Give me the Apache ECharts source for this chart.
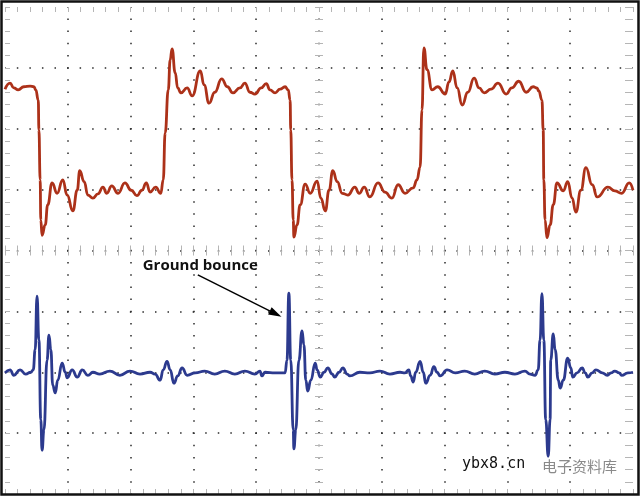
<!DOCTYPE html>
<html><head><meta charset="utf-8">
<script src="https://cdn.jsdelivr.net/npm/echarts@6/dist/echarts.min.js"></script>
<style>html,body{margin:0;padding:0;background:#fff}#c{width:640px;height:496px}</style>
</head><body><div id="c"></div>
<script>
// time in divisions (0..10), level in divisions (-4..4)
const redPoints = [
[0.00,2.65],[0.08,2.75],[0.14,2.67],[0.21,2.64],[0.30,2.69],[0.40,2.70],[0.46,2.69],[0.49,2.64],[0.53,2.47],[0.54,1.98],[0.56,1.16],[0.57,0.50],[0.59,0.25],[0.64,0.42],[0.68,0.75],[0.75,1.11],[0.83,0.94],[0.92,1.16],[0.99,0.91],[1.08,0.65],[1.15,0.99],[1.19,1.31],[1.26,1.13],[1.32,0.91],[1.40,0.86],[1.48,0.93],[1.56,1.04],[1.62,0.94],[1.70,1.06],[1.80,0.94],[1.91,1.11],[2.01,0.99],[2.10,0.90],[2.18,0.99],[2.25,1.11],[2.31,0.96],[2.40,1.04],[2.48,0.94],[2.52,1.16],[2.55,1.93],[2.60,2.64],[2.63,3.13],[2.66,3.31],[2.71,2.92],[2.75,2.67],[2.80,2.59],[2.90,2.67],[2.98,2.54],[3.11,2.95],[3.17,2.72],[3.25,2.42],[3.34,2.60],[3.45,2.82],[3.54,2.69],[3.63,2.59],[3.74,2.67],[3.82,2.75],[3.90,2.60],[3.98,2.57],[4.08,2.67],[4.16,2.74],[4.22,2.64],[4.30,2.59],[4.38,2.65],[4.46,2.69],[4.51,2.64],[4.54,2.47],[4.55,1.98],[4.57,1.16],[4.59,0.50],[4.60,0.22],[4.65,0.42],[4.70,0.75],[4.78,1.09],[4.86,0.94],[4.97,1.14],[5.03,0.86],[5.10,0.65],[5.16,0.99],[5.22,1.31],[5.29,1.13],[5.37,0.94],[5.46,0.91],[5.57,1.04],[5.64,0.94],[5.72,1.04],[5.81,0.88],[5.94,1.11],[6.05,0.96],[6.16,0.86],[6.26,1.08],[6.37,0.94],[6.50,1.03],[6.56,1.16],[6.61,1.37],[6.64,2.31],[6.67,3.33],[6.72,2.97],[6.80,2.64],[6.89,2.69],[7.01,2.57],[7.07,2.77],[7.13,2.95],[7.20,2.67],[7.28,2.39],[7.37,2.60],[7.47,2.83],[7.55,2.67],[7.63,2.59],[7.74,2.65],[7.85,2.75],[7.98,2.57],[8.07,2.67],[8.18,2.78],[8.30,2.60],[8.41,2.69],[8.47,2.67],[8.50,2.62],[8.55,2.47],[8.57,1.98],[8.58,1.16],[8.60,0.50],[8.63,0.21],[8.68,0.42],[8.73,0.75],[8.79,1.11],[8.89,0.98],[8.96,1.13],[9.03,0.86],[9.09,0.63],[9.17,0.99],[9.25,1.36],[9.35,1.08],[9.43,0.88],[9.60,1.04],[9.71,0.98],[9.82,0.94],[9.94,1.11],[10.00,0.99]
];
const bluePoints = [
[0.00,-2.01],[0.08,-1.96],[0.14,-2.05],[0.24,-1.96],[0.33,-2.03],[0.41,-2.00],[0.45,-1.96],[0.48,-1.63],[0.51,-0.75],[0.54,-1.47],[0.57,-2.78],[0.59,-3.28],[0.62,-2.95],[0.67,-1.80],[0.70,-1.39],[0.73,-1.63],[0.76,-2.21],[0.80,-2.34],[0.84,-2.13],[0.91,-1.85],[0.96,-2.00],[0.99,-2.09],[1.07,-1.96],[1.15,-2.08],[1.23,-1.96],[1.32,-2.05],[1.40,-2.00],[1.51,-2.03],[1.67,-1.98],[1.83,-2.05],[1.99,-1.98],[2.15,-2.03],[2.31,-2.00],[2.39,-2.03],[2.47,-2.13],[2.52,-1.96],[2.58,-1.82],[2.63,-1.96],[2.69,-2.18],[2.75,-2.06],[2.82,-1.93],[2.90,-2.05],[3.03,-2.01],[3.18,-1.98],[3.34,-2.03],[3.50,-1.98],[3.66,-2.03],[3.82,-1.98],[3.98,-2.03],[4.06,-1.98],[4.09,-2.06],[4.14,-2.00],[4.30,-2.01],[4.46,-2.01],[4.49,-1.80],[4.52,-0.70],[4.55,-1.80],[4.59,-2.95],[4.60,-3.26],[4.63,-2.95],[4.68,-1.80],[4.73,-1.32],[4.76,-1.55],[4.79,-2.13],[4.82,-2.31],[4.87,-2.13],[4.94,-1.85],[4.97,-1.96],[5.02,-2.08],[5.08,-2.00],[5.14,-1.93],[5.21,-2.03],[5.25,-2.08],[5.32,-2.00],[5.38,-1.93],[5.45,-2.03],[5.49,-2.06],[5.65,-2.00],[5.81,-2.01],[5.97,-1.98],[6.13,-2.03],[6.29,-2.00],[6.37,-2.01],[6.43,-1.96],[6.46,-2.06],[6.50,-2.16],[6.54,-2.00],[6.61,-1.82],[6.66,-2.00],[6.70,-2.18],[6.77,-2.05],[6.83,-1.91],[6.88,-2.00],[6.93,-2.06],[7.04,-1.96],[7.17,-2.01],[7.32,-1.98],[7.48,-2.03],[7.64,-1.98],[7.80,-2.03],[7.96,-2.00],[8.12,-2.03],[8.28,-1.98],[8.36,-2.03],[8.44,-2.05],[8.49,-1.96],[8.52,-1.47],[8.55,-0.71],[8.58,-1.47],[8.61,-2.78],[8.65,-3.38],[8.68,-2.78],[8.69,-1.80],[8.73,-1.37],[8.76,-1.63],[8.81,-2.13],[8.84,-2.26],[8.89,-2.13],[8.96,-1.77],[9.01,-1.93],[9.04,-2.08],[9.11,-2.01],[9.19,-1.93],[9.24,-2.01],[9.28,-2.08],[9.35,-2.01],[9.41,-1.96],[9.51,-2.01],[9.59,-2.05],[9.65,-2.01],[9.71,-1.98],[9.78,-2.01],[9.82,-2.05],[9.92,-2.01],[10.00,-2.00]
];
const annotationText = 'Ground bounce';
const annotationAt = [3.11, -0.25];
const arrowFrom = [3.07, -0.40];
const arrowTo = [4.31, -1.04];
const timeRange = [0, 10];
const levelRange = [-4, 4];
const centeredTimeRange = [-5, 5];
const watermarkSite = 'ybx8.cn';
const watermarkName = '电子资料库';

const chart = echarts.init(document.getElementById('c'), null, {renderer: 'canvas'});
const tickColor = '#b5b5b5';
function tickAxis(o) {
  return Object.assign({
    type: 'value', min: timeRange[0], max: timeRange[1], interval: 0.2,
    axisLine: {show: false, onZero: false}, axisLabel: {show: false},
    splitLine: {show: false},
    axisTick: {show: true, inside: true, length: 5, lineStyle: {color: tickColor, width: 1}}
  }, o);
}
function tickYAxis(o) {
  return tickAxis(Object.assign({min: levelRange[0], max: levelRange[1]}, o));
}
function centerLine(onZeroAxisIndex, inside, len, isY) {
  return {
    type: 'value',
    min: isY ? levelRange[0] : timeRange[0], max: isY ? levelRange[1] : timeRange[1], interval: 0.2,
    position: isY ? 'left' : 'bottom',
    axisLine: {show: true, onZero: true, onZeroAxisIndex: onZeroAxisIndex, lineStyle: {color: 'rgba(0,0,0,0)'}},
    axisLabel: {show: false}, splitLine: {show: false},
    axisTick: {show: true, inside: inside, length: len, lineStyle: {color: tickColor, width: 1}}
  };
}

const option = {
  animation: false,
  backgroundColor: '#fff',
  grid: {left: 5, right: 7, top: 7, bottom: 2, containLabel: false},
  xAxis: [
    {type: 'value', min: timeRange[0], max: timeRange[1], interval: 1, position: 'bottom',
     axisLine: {show: false, onZero: false}, axisTick: {show: false}, axisLabel: {show: false},
     splitLine: {show: true, showMinLine: false, showMaxLine: false,
       lineStyle: {color: '#2a2a2a', width: 1.5, type: [1.5, 10.68], dashOffset: 0.75}}},
    tickAxis({position: 'bottom'}),
    tickAxis({position: 'top'}),
    centerLine(0, true, 5, false),
    centerLine(0, false, 5, false),
    {type: 'value', min: centeredTimeRange[0], max: centeredTimeRange[1], show: false,
     axisLine: {onZero: false}}
  ],
  yAxis: [
    {type: 'value', min: levelRange[0], max: levelRange[1], interval: 1, position: 'left',
     axisLine: {show: false, onZero: false}, axisTick: {show: false}, axisLabel: {show: false},
     splitLine: {show: true, showMinLine: false, showMaxLine: false,
       lineStyle: {color: '#2a2a2a', width: 1.5, type: [1.5, 11.06], dashOffset: 0.75}}},
    tickYAxis({position: 'left'}),
    tickYAxis({position: 'right', axisTick: {show: true, inside: true, length: 8, lineStyle: {color: tickColor, width: 1}}}),
    centerLine(5, true, 4, true),
    centerLine(5, false, 4, true)
  ],
  series: [
    {type: 'line', name: 'output', xAxisIndex: 0, yAxisIndex: 0, data: redPoints,
     showSymbol: false, smooth: 0.5, smoothMonotone: 'x', z: 5,
     lineStyle: {color: '#AC3119', width: 2.8}},
    {type: 'line', name: 'ground', xAxisIndex: 0, yAxisIndex: 0, data: bluePoints,
     showSymbol: false, smooth: 0.5, smoothMonotone: 'x', z: 5,
     lineStyle: {color: '#2C3A8E', width: 2.8},
     markLine: {silent: true, symbol: ['none', 'triangle'], symbolSize: [8, 13],
       label: {show: false}, lineStyle: {color: '#000', width: 1.5, type: 'solid'},
       emphasis: {disabled: true},
       data: [[{coord: arrowFrom}, {coord: arrowTo}]]},
     markPoint: {silent: true, symbol: 'rect', symbolSize: 1, itemStyle: {color: 'rgba(0,0,0,0)'},
       label: {show: true, position: 'inside', formatter: annotationText, color: '#111',
         fontSize: 15, fontWeight: 'bold', fontFamily: 'Open Sans'},
       data: [{coord: annotationAt}]}
    }
  ],
  graphic: [
    {type: 'rect', silent: true, z: 100, shape: {x: 1.5, y: 1.5, width: 637, height: 493},
     style: {fill: 'none', stroke: '#111', lineWidth: 2.5}},
    {type: 'text', silent: true, z: 100, left: 462, top: 457,
     style: {text: watermarkSite, font: '15px "DejaVu Sans Mono"', fill: '#111'}},
    {type: 'text', silent: true, z: 100, left: 542, top: 459,
     style: {text: watermarkName, font: '15px "Noto Sans CJK SC"', fill: '#8a8a8a'}}
  ]
};
chart.setOption(option);
</script>
</body></html>
